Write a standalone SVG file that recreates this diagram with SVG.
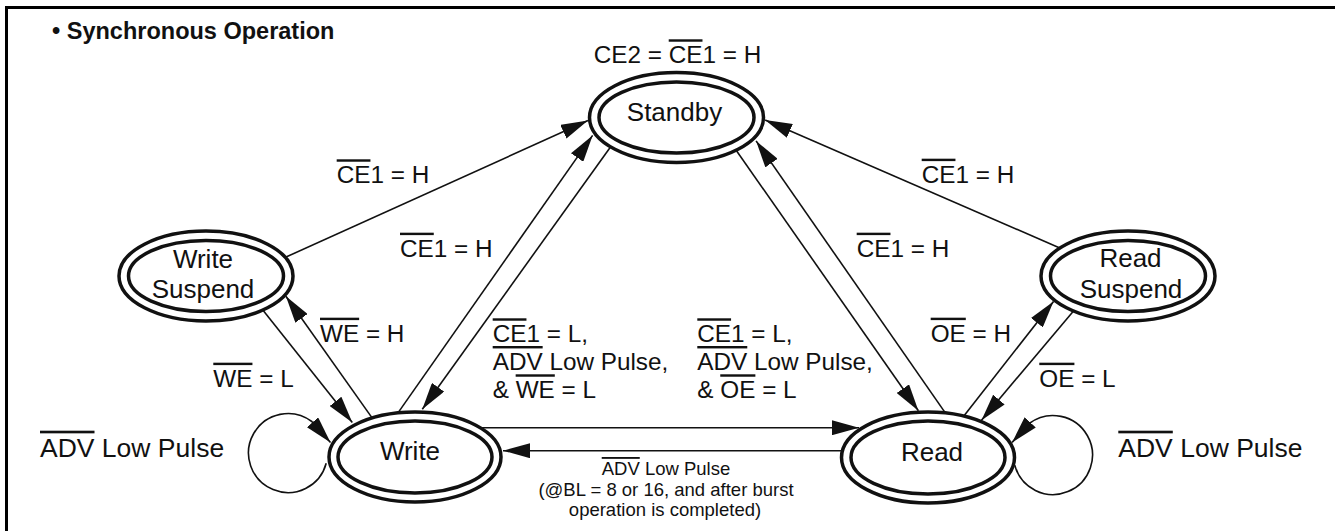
<svg xmlns="http://www.w3.org/2000/svg" width="1335" height="531" viewBox="0 0 1335 531">
<style>
text { font-family: "Liberation Sans", Arial, Helvetica, sans-serif; fill: #111; }
.title { font-size: 23.5px; font-weight: bold; }
.node { font-size: 26px; text-anchor: middle; }
.lbl { font-size: 24.3px; }
.side { font-size: 26.5px; }
.small { font-size: 18.5px; text-anchor: middle; }
.ov { text-decoration: overline; }
.outer { fill: #fff; stroke: #111; stroke-width: 3.5; }
.inner { fill: #fff; stroke: #111; stroke-width: 3.5; }
.edge { fill: none; stroke: #111; stroke-width: 1.6; marker-end: url(#arr); }
.frame { fill: none; stroke: #000; stroke-width: 3; }
</style>
<defs>
<marker id="arr" markerUnits="userSpaceOnUse" markerWidth="27" markerHeight="15" viewBox="0 0 27 15" refX="27" refY="7.5" orient="auto">
<path d="M0,0 L27,7.5 L0,15 Z" fill="#111"/>
</marker>
</defs>
<rect width="1335" height="531" fill="#fff"/>
<path class="frame" d="M6.5,531 V7.5 H1335"/>
<text class="title" x="52" y="39.3">• Synchronous Operation</text>

<g id="connectors">
<path class="edge" d="M282.1,258.8 L588,120.6"/>
<path class="edge" d="M397.1,414.1 L592.6,135.4"/>
<path class="edge" d="M613,143.5 L422.3,409.2"/>
<path class="edge" d="M733.7,146.7 L918.4,410.8"/>
<path class="edge" d="M946.7,414.9 L756.1,140.9"/>
<path class="edge" d="M1063.8,249.7 L765.1,120.1"/>
<path class="edge" d="M263,310.3 L352.3,422.5"/>
<path class="edge" d="M373.5,419.9 L285.9,296.3"/>
<path class="edge" d="M962.3,418 L1053.5,301.4"/>
<path class="edge" d="M1075.2,308.9 L981.5,420.2"/>
<path class="edge" d="M480,427.7 L859,427.7"/>
<path class="edge" d="M850,450.7 L503,450.7"/>
<path class="edge" d="M326.2,463.2 A39.5,39.5 0 1 1 311.8,421.5 L330.5,442.5"/>
<path class="edge" d="M1014.8,465.2 A39.5,39.5 0 1 0 1029.2,423.5 L1012.1,442.4"/>
</g>

<g id="standby">
<ellipse class="outer" cx="676.5" cy="117.5" rx="87" ry="45"/>
<ellipse class="inner" cx="676.5" cy="117.5" rx="77.5" ry="35.5"/>
<text class="node" x="674.5" y="120.7">Standby</text>
</g>
<g id="write-suspend">
<ellipse class="outer" cx="206" cy="276" rx="87" ry="45"/>
<ellipse class="inner" cx="206" cy="276" rx="77.5" ry="35.5"/>
<text class="node" x="203" y="267.8">Write</text>
<text class="node" x="203" y="297.5">Suspend</text>
</g>
<g id="read-suspend">
<ellipse class="outer" cx="1128" cy="276" rx="87" ry="45"/>
<ellipse class="inner" cx="1128" cy="276" rx="77.5" ry="35.5"/>
<text class="node" x="1130.5" y="267.3">Read</text>
<text class="node" x="1131" y="297.5">Suspend</text>
</g>
<g id="write">
<ellipse class="outer" cx="415" cy="457" rx="86" ry="45"/>
<ellipse class="inner" cx="415" cy="457" rx="77" ry="36"/>
<text class="node" x="410" y="460">Write</text>
</g>
<g id="read">
<ellipse class="outer" cx="928" cy="457.5" rx="86.5" ry="45.5"/>
<ellipse class="inner" cx="928" cy="457.5" rx="77" ry="36.5"/>
<text class="node" x="932" y="460.7">Read</text>
</g>

<g id="labels">
<text class="lbl" x="677.5" y="63.3" text-anchor="middle">CE2 = <tspan class="ov">CE</tspan>1 = H</text>
<text class="lbl" x="336.7" y="183.3"><tspan class="ov">CE</tspan>1 = H</text>
<text class="lbl" x="400" y="256.7"><tspan class="ov">CE</tspan>1 = H</text>
<text class="lbl" x="856.7" y="256.7"><tspan class="ov">CE</tspan>1 = H</text>
<text class="lbl" x="921.7" y="182.7"><tspan class="ov">CE</tspan>1 = H</text>
<text class="lbl" x="320" y="341.7"><tspan class="ov">WE</tspan> = H</text>
<text class="lbl" x="213.3" y="386.7"><tspan class="ov">WE</tspan> = L</text>
<text class="lbl" x="930.7" y="341.7"><tspan class="ov">OE</tspan> = H</text>
<text class="lbl" x="1039.3" y="386.7"><tspan class="ov">OE</tspan> = L</text>
<text class="lbl" x="492.7" y="342.3"><tspan class="ov">CE</tspan>1 = L,</text>
<text class="lbl" x="492.7" y="370"><tspan class="ov">ADV</tspan> Low Pulse,</text>
<text class="lbl" x="492.7" y="398.3">&amp; <tspan class="ov">WE</tspan> = L</text>
<text class="lbl" x="697.3" y="342.3"><tspan class="ov">CE</tspan>1 = L,</text>
<text class="lbl" x="697.3" y="370"><tspan class="ov">ADV</tspan> Low Pulse,</text>
<text class="lbl" x="697.3" y="398.3">&amp; <tspan class="ov">OE</tspan> = L</text>
<text class="small" x="666" y="475"><tspan class="ov">ADV</tspan> Low Pulse</text>
<text class="small" x="666" y="496">(@BL = 8 or 16, and after burst</text>
<text class="small" x="665" y="516">operation is completed)</text>
<text class="side" x="40" y="456.7"><tspan class="ov">ADV</tspan> Low Pulse</text>
<text class="side" x="1118.3" y="456.7"><tspan class="ov">ADV</tspan> Low Pulse</text>
</g>
</svg>
